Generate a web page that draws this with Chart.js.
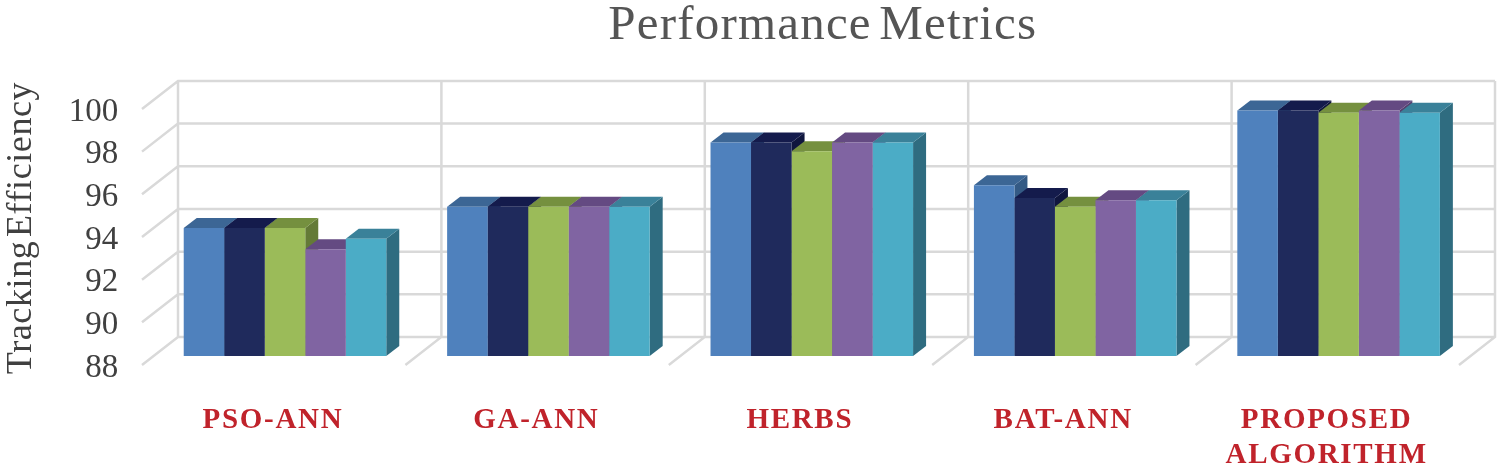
<!DOCTYPE html>
<html><head><meta charset="utf-8">
<style>html,body{margin:0;padding:0;background:#fff}canvas{display:block}</style>
<script src="https://cdn.jsdelivr.net/npm/chart.js@4"></script></head>
<body><canvas id="c" width="1504" height="470"></canvas>
<script>
const categories=['PSO-ANN','GA-ANN','HERBS','BAT-ANN',['PROPOSED','ALGORITHM']];
const seriesA=[94,95,98,96,99.5];
const seriesB=[94,95,98,95.4,99.5];
const seriesC=[94,95,97.6,95,99.4];
const seriesD=[93,95,98,95.3,99.5];
const seriesE=[93.5,95,98,95.3,99.4];
const fronts=['#4F81BD','#1F2A5C','#9BBB59','#8064A2','#4BACC6'];
const tops=['#3C6695','#141B4C','#75903F','#644A82','#3A8199'];
const sides=['#345A85','#10163E','#647A37','#56406F','#2F6C80'];
const allSeries=[seriesA,seriesB,seriesC,seriesD,seriesE];
const GRID='#D9D9D9';
const BACK={dx:24.7,dy:-19},FRONT={dx:-11.3,dy:9},DEPTH={dx:13,dy:-10};
function spaced(ctx,obj,method,letter,word){
 const f=obj[method].bind(obj);
 obj[method]=(...a)=>{ctx.letterSpacing=letter+'px';ctx.wordSpacing=word+'px';f(...a);ctx.letterSpacing='0px';ctx.wordSpacing='0px';};
}
const walls={id:'walls',
 afterLayout(chart){
  const t=chart.titleBlock,ctx=chart.ctx;
  t.left+=11;t.right+=11;
  if(!chart.$spaced){chart.$spaced=true;
   spaced(ctx,t,'draw',1.2,-6);
   spaced(ctx,chart.scales.x,'drawLabels',1.7,0);
   spaced(ctx,chart.scales.y,'drawTitle',0.6,-6);
  }
 },
 beforeDatasetsDraw(chart){
  const {ctx,scales:{x,y}}=chart;
  ctx.save();ctx.strokeStyle=GRID;ctx.lineWidth=2.5;
  const bx=k=>x.left+(x.right-x.left)*k/categories.length;
  ctx.beginPath();
  y.ticks.forEach(t=>{const p=y.getPixelForValue(t.value);
   ctx.moveTo(bx(0)+FRONT.dx,p+FRONT.dy);
   ctx.lineTo(bx(0)+BACK.dx,p+BACK.dy);
   ctx.lineTo(bx(categories.length)+BACK.dx,p+BACK.dy);});
  const py0=y.getPixelForValue(y.min),py1=y.getPixelForValue(y.max);
  for(let k=0;k<=categories.length;k++){
   ctx.moveTo(bx(k)+BACK.dx,py1+BACK.dy);
   ctx.lineTo(bx(k)+BACK.dx,py0+BACK.dy);
   ctx.lineTo(bx(k)+FRONT.dx,py0+FRONT.dy);}
  ctx.stroke();
  // depth faces, left to right; the front faces are then drawn by the library
  chart.data.datasets.forEach((ds,i)=>{
   chart.getDatasetMeta(i).data.forEach(b=>{
    const l=b.x-b.width/2,r=b.x+b.width/2,t=b.y,bt=py0;
    ctx.fillStyle=sides[i];ctx.beginPath();
    ctx.moveTo(r,t);ctx.lineTo(r+DEPTH.dx,t+DEPTH.dy);ctx.lineTo(r+DEPTH.dx,bt+DEPTH.dy);ctx.lineTo(r,bt);ctx.closePath();ctx.fill();
    ctx.fillStyle=tops[i];ctx.beginPath();
    ctx.moveTo(l,t);ctx.lineTo(l+DEPTH.dx,t+DEPTH.dy);ctx.lineTo(r+DEPTH.dx,t+DEPTH.dy);ctx.lineTo(r,t);ctx.closePath();ctx.fill();
   });
  });
  ctx.restore();
 }};
new Chart(document.getElementById('c'),{
 type:'bar',plugins:[walls],
 data:{labels:categories,datasets:allSeries.map((data,i)=>({label:'Series '+(i+1),data,backgroundColor:fronts[i],borderWidth:0,barPercentage:1,categoryPercentage:0.769}))},
 options:{responsive:false,animation:false,layout:{padding:{left:0,right:33.7,top:0,bottom:0}},
  plugins:{legend:{display:false},tooltip:{enabled:false},
   title:{display:true,text:'Performance Metrics',fullSize:false,color:'#555555',font:{family:'Liberation Serif',size:49,weight:'normal',lineHeight:1.06},padding:{top:0,bottom:48}}},
  scales:{
   x:{grid:{display:false},border:{display:false},afterFit(s){s.height=114;},
    ticks:{color:'#C0232B',font:{family:'Liberation Serif',size:29,weight:'bold',lineHeight:1.2},labelOffset:-12,padding:39,maxRotation:0,autoSkip:false}},
   y:{min:88,max:100,grid:{display:false,drawTicks:false},border:{display:false},afterFit(s){s.width=153.3;},
    ticks:{stepSize:2,color:'#404040',font:{family:'Liberation Serif',size:33},labelOffset:12,padding:35},
    title:{display:true,text:'Tracking Efficiency',color:'#404040',font:{family:'Liberation Serif',size:36,weight:'normal'},padding:{top:0,bottom:0}}}
  }}
});
</script></body></html>
